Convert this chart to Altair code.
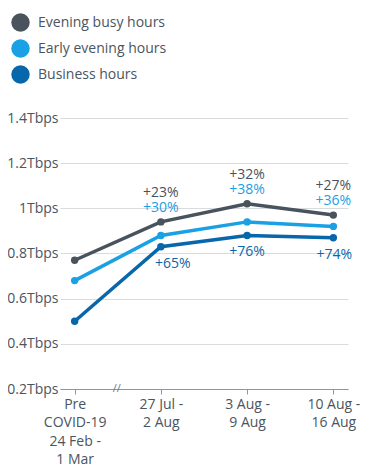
import altair as alt
import pandas as pd

periods = ["Pre\nCOVID-19\n24 Feb -\n1 Mar", "27 Jul -\n2 Aug", "3 Aug -\n9 Aug", "10 Aug -\n16 Aug"]
series = ["Evening busy hours", "Early evening hours", "Business hours"]
colors = ["#48535e", "#1aa0e4", "#0867ab"]
evening_busy = [0.77, 0.94, 1.02, 0.97]
early_evening = [0.68, 0.88, 0.94, 0.92]
business = [0.50, 0.83, 0.88, 0.87]
busy_labels = ["", "+23%", "+32%", "+27%"]
early_labels = ["", "+30%", "+38%", "+36%"]
business_labels = ["", "+65%", "+76%", "+74%"]
business_label_shift = [0, 12, 0, 1]
y_ticks = [0.2, 0.4, 0.6, 0.8, 1.0, 1.2, 1.4]

FONT = "Open Sans"
FS = 14

rows = []
for s, vals in zip(series, [evening_busy, early_evening, business]):
    for p, v in zip(periods, vals):
        rows.append({"period": p, "series": s, "value": v})
df = pd.DataFrame(rows)

lab = pd.DataFrame({
    "period": periods,
    "busy": evening_busy,
    "business": business,
    "busy_label": busy_labels,
    "early_label": early_labels,
    "business_label": business_labels,
    "shift": business_label_shift,
})

x_enc = alt.X("period:N", sort=periods,
              scale=alt.Scale(type="point", padding=0.17),
              axis=alt.Axis(title=None, labelAngle=0, labelExpr="split(datum.label, '\\n')",
                            labelLineHeight=18.5, labelFontSize=FS, labelColor="#4a5560",
                            labelFont=FONT, domainColor="#8f969d", tickColor="#8f969d",
                            tickSize=5, labelPadding=3, grid=False))
y_scale = alt.Scale(domain=[0.2, 1.4], nice=False, zero=False)
y_enc = alt.Y("value:Q", scale=y_scale,
              axis=alt.Axis(title=None, values=y_ticks, format="~g",
                            labelExpr="datum.label + 'Tbps'", domain=False, ticks=False,
                            labelFontSize=FS, labelColor="#4a5560", labelFont=FONT,
                            labelPadding=2, gridColor="#d8dcdf", gridWidth=1))
color_enc = alt.Color("series:N", scale=alt.Scale(domain=series, range=colors),
                      sort=series,
                      legend=alt.Legend(title=None, orient="none", legendX=-49, legendY=-105,
                                        symbolType="circle", symbolSize=340, symbolStrokeWidth=0,
                                        labelFontSize=FS, labelFont=FONT, labelColor="#4a5560",
                                        rowPadding=7, labelOffset=8, padding=0))

base = alt.Chart(df)
lines = base.mark_line(strokeWidth=3.5).encode(x=x_enc, y=y_enc, color=color_enc)
points = base.mark_circle(size=55, opacity=1).encode(
    x=x_enc, y=y_enc,
    color=alt.Color("series:N", scale=alt.Scale(domain=series, range=colors), legend=None))

lx = alt.X("period:N", sort=periods)
t_busy = alt.Chart(lab).mark_text(dy=-29, fontSize=FS, font=FONT, color=colors[0]).encode(
    x=lx, y=alt.Y("busy:Q", scale=y_scale), text="busy_label:N")
t_early = alt.Chart(lab).mark_text(dy=-14, fontSize=FS, font=FONT, color=colors[1]).encode(
    x=lx, y=alt.Y("busy:Q", scale=y_scale), text="early_label:N")
t_bus = alt.Chart(lab).mark_text(dy=17, fontSize=FS, font=FONT, color=colors[2]).encode(
    x=lx, xOffset=alt.XOffset("shift:Q", scale=None), y=alt.Y("business:Q", scale=y_scale),
    text="business_label:N")

brk = alt.Chart(pd.DataFrame({"period": [periods[0]], "v": [0.2], "t": ["//"]})).mark_text(
    dx=42, fontSize=11, font=FONT, color="#6f767d", baseline="middle").encode(
    x=lx, y=alt.Y("v:Q", scale=y_scale), text="t:N")

chart = alt.layer(lines, points, t_busy, t_early, t_bus, brk).properties(
    width=288, height=271,
    autosize=alt.AutoSizeParams(type="none"),
    padding={"left": 52, "top": 110, "right": 26, "bottom": 80},
).configure_view(stroke=None)

chart.save("out.html", embed_options={"renderer": "svg", "actions": False})
